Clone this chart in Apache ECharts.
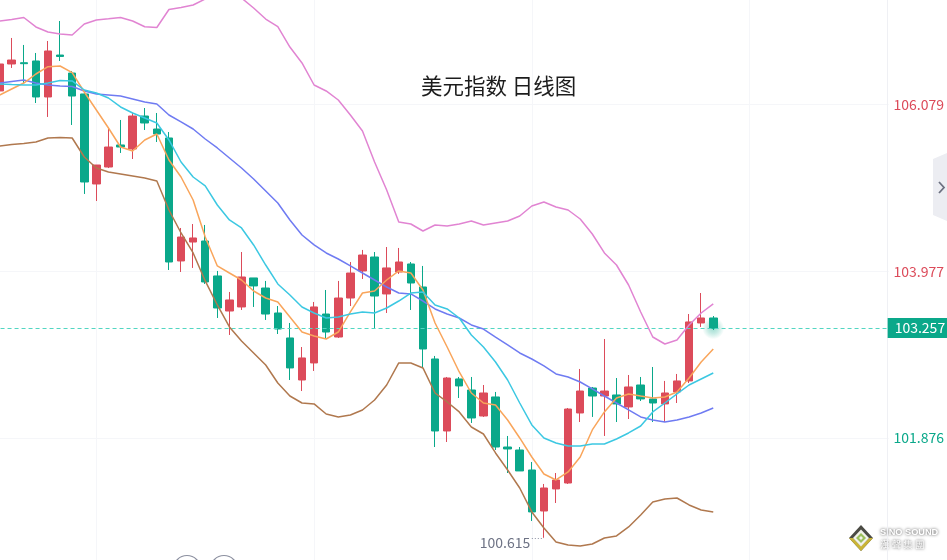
<!DOCTYPE html>
<html><head><meta charset="utf-8">
<style>html,body{margin:0;padding:0;background:#fff;overflow:hidden}#c{width:947px;height:560px}</style>
<script src="https://cdn.jsdelivr.net/npm/echarts@6/dist/echarts.min.js"></script>
</head><body><div id="c"></div>
<script>
const chartTitle = '美元指数 日线图';
const tickValues = [101.876, 103.977, 106.079];
const lastPrice = 103.257;
const lowestPrice = 100.615;
const opens = [106.250,106.590,106.606,106.628,106.174,106.703,106.476,106.212,105.077,105.291,105.569,105.518,105.934,105.770,105.657,104.106,104.345,104.358,103.917,103.475,103.526,103.892,103.765,103.450,103.135,102.605,102.820,103.437,103.147,103.639,103.980,104.156,103.690,103.967,104.068,103.778,102.870,101.962,102.618,102.479,102.151,102.391,101.760,101.722,101.470,100.953,101.231,101.306,102.189,102.504,102.403,102.416,102.265,102.542,102.366,102.303,102.454,102.593,103.324,103.387];
const closes = [106.590,106.640,106.594,106.174,106.754,106.685,106.186,105.102,105.316,105.543,105.543,105.934,105.846,105.707,104.093,104.408,104.396,103.841,103.513,103.614,103.904,103.791,103.437,103.248,102.757,102.883,103.526,103.210,103.639,103.954,104.181,103.664,104.018,104.093,103.828,102.996,101.962,102.630,102.530,102.126,102.441,101.760,101.735,101.458,100.941,101.243,101.344,102.239,102.466,102.403,102.466,102.303,102.517,102.366,102.315,102.441,102.593,103.337,103.387,103.257];
const lows = [106.250,106.540,106.350,106.098,105.922,106.628,105.821,104.951,104.862,105.278,105.468,105.392,105.758,105.606,103.992,103.967,104.018,103.816,103.387,103.173,103.488,103.526,103.362,103.185,102.605,102.466,102.719,103.122,103.135,103.538,103.879,103.261,103.450,103.942,103.488,102.769,101.760,101.823,102.378,102.063,102.139,101.722,101.432,101.458,100.827,100.615,101.054,101.294,102.075,102.139,101.899,102.075,102.113,102.340,102.075,102.075,102.315,102.567,103.274,103.236];
const highs = [106.590,106.918,106.830,106.729,106.880,107.132,106.502,106.237,105.316,105.783,105.884,105.972,106.035,105.972,105.732,104.522,104.572,104.560,103.980,103.715,104.219,103.892,103.854,103.538,103.324,103.021,103.589,103.740,103.854,104.093,104.245,104.219,104.282,104.270,104.093,104.043,102.908,102.643,102.643,102.643,102.542,102.454,101.899,101.760,101.571,101.294,101.432,102.252,102.744,102.517,103.122,102.630,102.668,102.643,102.769,102.593,102.681,103.437,103.702,103.412];
const bollUpper = [107.132,107.151,107.176,107.057,106.993,106.968,106.956,107.094,107.145,107.160,107.176,107.132,107.060,107.050,107.277,107.302,107.334,107.410,107.447,107.498,107.422,107.296,107.157,107.060,106.804,106.603,106.325,106.250,106.136,105.947,105.745,105.354,105.001,104.598,104.572,104.484,104.560,104.547,104.572,104.610,104.560,104.585,104.610,104.673,104.799,104.850,104.787,104.749,104.635,104.446,104.207,104.055,103.803,103.463,103.147,103.059,103.110,103.299,103.450,103.564];
const bollMiddle = [106.350,106.369,106.388,106.350,106.325,106.313,106.306,106.250,106.212,106.199,106.186,106.149,106.111,106.086,105.947,105.859,105.770,105.644,105.531,105.405,105.278,105.140,104.988,104.837,104.623,104.434,104.308,104.207,104.131,104.043,103.954,103.866,103.778,103.702,103.690,103.601,103.501,103.437,103.387,103.299,103.248,103.147,103.047,102.946,102.870,102.782,102.681,102.643,102.580,102.492,102.403,102.315,102.227,102.139,102.101,102.075,102.101,102.139,102.189,102.252];
const bollLower = [105.556,105.575,105.587,105.606,105.657,105.663,105.657,105.417,105.278,105.228,105.203,105.178,105.152,105.115,104.749,104.459,104.207,103.854,103.551,103.274,103.097,102.946,102.794,102.567,102.403,102.315,102.303,102.176,102.139,102.164,102.227,102.353,102.542,102.820,102.820,102.757,102.441,102.328,102.202,102.012,101.924,101.685,101.470,101.243,100.941,100.739,100.562,100.525,100.512,100.537,100.613,100.638,100.752,100.903,101.067,101.105,101.117,101.029,100.966,100.941];
const ma5 = [106.199,106.275,106.350,106.464,106.556,106.565,106.480,106.237,106.010,105.783,105.543,105.493,105.632,105.707,105.379,105.165,104.875,104.408,104.043,103.954,103.866,103.727,103.639,103.589,103.400,103.210,103.160,103.122,103.210,103.463,103.702,103.727,103.866,103.980,103.954,103.740,103.324,103.021,102.706,102.441,102.315,102.290,102.101,101.874,101.634,101.420,101.344,101.445,101.634,101.975,102.202,102.378,102.429,102.403,102.378,102.391,102.454,102.630,102.832,102.996];
const ma10 = [106.338,106.331,106.325,106.325,106.350,106.382,106.376,106.262,106.224,106.161,106.048,105.972,105.909,105.846,105.632,105.354,105.165,105.052,104.812,104.623,104.522,104.308,104.055,103.816,103.677,103.526,103.450,103.387,103.400,103.437,103.463,103.450,103.513,103.601,103.702,103.715,103.551,103.501,103.387,103.173,103.021,102.832,102.605,102.315,102.038,101.874,101.811,101.773,101.773,101.798,101.798,101.861,101.937,102.025,102.202,102.315,102.429,102.542,102.618,102.693];
const slotCount = 74;
const categories = Array.from({length: slotCount}, (_, i) => 'D' + (i + 1));

const RED = '#DC4B5A', GREEN = '#0AA88A';
const FONT = '"Noto Sans CJK SC", sans-serif';
const lineSeries = (name, data, color) => ({
  name, type: 'line', data, symbol: 'none', silent: true, z: 5,
  lineStyle: {color, width: 1.5}, itemStyle: {color}
});
const chart = echarts.init(document.getElementById('c'), null, {renderer: 'canvas'});
chart.setOption({
  animation: false,
  backgroundColor: '#fff',
  title: {
    text: chartTitle, left: 416, top: 70,
    textStyle: {fontFamily: '"Noto Sans CJK SC"', fontSize: 21.5, fontWeight: 'normal', color: '#1c1c1c'}
  },
  grid: {left: -6.45, top: 0, width: 895.1, height: 560, outerBoundsMode: 'none'},
  xAxis: {
    type: 'category', data: categories, boundaryGap: true,
    axisLine: {show: false}, axisTick: {show: false}, axisLabel: {show: false},
    splitLine: {show: true, alignWithLabel: true, interval: (i) => i % 18 === 8, lineStyle: {color: '#f5f6f9', width: 1}}
  },
  yAxis: {
    type: 'value', position: 'right', offset: -1.1, min: 100.335, max: 107.397, scale: true,
    axisLine: {show: true, lineStyle: {color: '#eff0f4'}},
    axisTick: {show: false, customValues: tickValues},
    axisLabel: {
      customValues: tickValues, margin: 6, fontFamily: FONT, fontSize: 14, padding: [7, 0, 0, 0],
      formatter: v => v.toFixed(3),
      color: v => v > lastPrice ? RED : GREEN
    },
    splitLine: {show: true, lineStyle: {color: '#f5f6f9', width: 1}}
  },
  series: [
    {
      name: 'glow', type: 'scatter', data: [[59, lastPrice]], symbolSize: 22, z: 1, silent: true,
      itemStyle: {color: {type: 'radial', x: .5, y: .5, r: .5, colorStops: [
        {offset: 0, color: 'rgba(10,168,138,.5)'}, {offset: .5, color: 'rgba(10,168,138,.28)'}, {offset: 1, color: 'rgba(10,168,138,0)'}]}}
    },
    {
      name: '美元指数', type: 'candlestick', z: 3, barWidth: 8,
      data: opens.map((o, i) => [o, closes[i], lows[i], highs[i]]),
      itemStyle: {color: RED, color0: GREEN, borderColor: RED, borderColor0: GREEN, borderWidth: 1},
      markLine: {
        silent: true, symbol: 'none', animation: false,
        data: [
          {
            yAxis: lastPrice,
            lineStyle: {color: '#52d6c2', type: [4, 3], width: 1},
            label: {
              show: true, position: 'end', distance: -1, formatter: lastPrice.toFixed(3),
              backgroundColor: GREEN, color: '#fff', fontFamily: FONT, fontSize: 14,
              padding: [1, 5, 1, 7], lineHeight: 18, align: 'left', verticalAlign: 'middle'
            }
          },
          [
            {coord: [44, lowestPrice], lineStyle: {color: '#8a8fa0', type: [1, 2], width: 1}, label: {show: false}},
            {coord: [45, lowestPrice]}
          ]
        ]
      },
      markPoint: {
        silent: true, animation: false,
        data: [{
          coord: [44, lowestPrice], symbol: 'circle', symbolSize: 1, itemStyle: {color: 'rgba(0,0,0,0)'},
          label: {show: true, position: 'left', distance: 1, offset: [0, 5], formatter: lowestPrice.toFixed(3),
            color: '#6e7385', fontFamily: FONT, fontSize: 14}
        }]
      }
    },
    lineSeries('BOLL上轨', bollUpper, '#E184D2'),
    lineSeries('BOLL中轨', bollMiddle, '#6F7BF2'),
    lineSeries('BOLL下轨', bollLower, '#B0784E'),
    lineSeries('MA5', ma5, '#F9A55B'),
    lineSeries('MA10', ma10, '#3CC8E2')
  ],
  graphic: [
    {type: 'polygon', shape: {points: [[947, 153], [933, 159], [933, 215], [947, 221]]}, style: {fill: '#ecedf2'}},
    {type: 'polyline', shape: {points: [[939, 182], [944, 187.5], [939, 193]]}, style: {stroke: '#6c7080', lineWidth: 1.8, fill: null}},
    {type: 'circle', shape: {cx: 187, cy: 569, r: 13.5}, style: {fill: '#fff', stroke: '#8c90a0', lineWidth: 1.2}},
    {type: 'circle', shape: {cx: 224, cy: 569, r: 13.5}, style: {fill: '#fff', stroke: '#8c90a0', lineWidth: 1.2}},
    {type: 'polygon', shape: {points: [[861, 525], [873, 538], [861, 551], [849, 538]]}, style: {fill: '#4b4b44'}},
    {type: 'polygon', shape: {points: [[849, 538], [861, 551], [873, 538], [869, 538], [861, 546], [853, 538]]}, style: {fill: '#c9b437'}},
    {type: 'polygon', shape: {points: [[861, 529.5], [869, 538], [861, 546.5], [853, 538]]}, style: {fill: '#f2f2ea'}},
    {type: 'polygon', shape: {points: [[861, 533], [866, 538], [861, 543], [856, 538]]}, style: {fill: '#9cc05c'}},
    {type: 'polygon', shape: {points: [[861, 536], [863, 538], [861, 540], [859, 538]]}, style: {fill: '#f2f2ea'}},
    {type: 'text', x: 880, y: 528, style: {text: 'SINO SOUND', fill: '#fff', font: 'bold 9.2px "Liberation Sans"', textShadowColor: '#444', textShadowBlur: 3}},
    {type: 'text', x: 880, y: 540, style: {text: '漢 聲 集 團', fill: '#fff', font: '9.5px "Noto Sans CJK TC"', textShadowColor: '#444', textShadowBlur: 3}}
  ]
});
</script></body></html>
